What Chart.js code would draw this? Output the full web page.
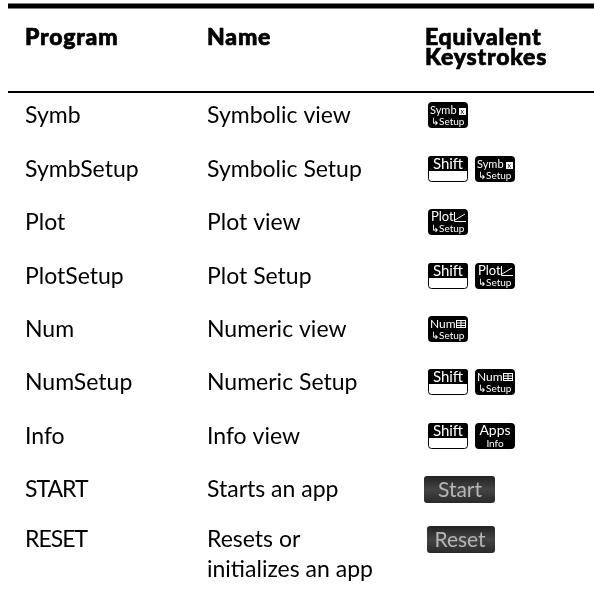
<!DOCTYPE html>
<html>
<head>
<meta charset="utf-8">
<style>
  html, body { margin: 0; padding: 0; background: #fff; }
  canvas { display: block; }
</style>
<script src="https://cdn.jsdelivr.net/npm/chart.js@4"></script>
</head>
<body>
<canvas id="chart" width="594" height="593"></canvas>
<script>
// table contents
const headers = ["Program", "Name", ["Equivalent", "Keystrokes"]];
const programs = ["Symb", "SymbSetup", "Plot", "PlotSetup", "Num", "NumSetup", "Info", "START", "RESET"];
const names = ["Symbolic view", "Symbolic Setup", "Plot view", "Plot Setup", "Numeric view", "Numeric Setup", "Info view", "Starts an app", ["Resets or", "initializes an app"]];
const keystrokes = [["Symb"], ["Shift", "Symb"], ["Plot"], ["Shift", "Plot"], ["Num"], ["Shift", "Num"], ["Shift", "Apps"], ["Start"], ["Reset"]];

// layout, in pixels of the hidden axes
const colX = [25, 207, 428];
const key2X = 475;
const rowBase = [123, 177, 230, 284, 337, 390, 444, 497, 547];
const lineGap = 30;
const FONT = '"Lato", "Open Sans", sans-serif';

function roundBox(ctx, x, y, w, h, r, fill, stroke) {
  ctx.beginPath();
  ctx.roundRect(x, y, w, h, r);
  if (fill) { ctx.fillStyle = fill; ctx.fill(); }
  if (stroke) { ctx.strokeStyle = stroke; ctx.lineWidth = 1; ctx.stroke(); }
}

function capText(ctx, text, x, y, size, color, align) {
  ctx.fillStyle = color || "#fff";
  ctx.font = size + "px " + FONT;
  ctx.textAlign = align || "left";
  ctx.fillText(text, x, y);
  ctx.textAlign = "left";
}

function keyIcon(ctx, name, x, y) {
  ctx.strokeStyle = "#fff";
  ctx.fillStyle = "#fff";
  ctx.lineWidth = 1;
  if (name == "Symb") {
    ctx.fillRect(x, y, 7, 7);
    capText(ctx, "x", x + 1.5, y + 6, 7, "#000");
  } else if (name == "Plot") {
    ctx.beginPath();
    ctx.moveTo(x + 0.5, y);
    ctx.lineTo(x + 0.5, y + 9.5);
    ctx.lineTo(x + 12, y + 9.5);
    ctx.moveTo(x + 1, y + 8);
    ctx.lineTo(x + 11, y + 2);
    ctx.stroke();
  } else if (name == "Num") {
    ctx.strokeRect(x + 0.5, y + 0.5, 9, 7);
    ctx.beginPath();
    ctx.moveTo(x, y + 3); ctx.lineTo(x + 10, y + 3);
    ctx.moveTo(x, y + 5.5); ctx.lineTo(x + 10, y + 5.5);
    ctx.moveTo(x + 5, y); ctx.lineTo(x + 5, y + 8);
    ctx.stroke();
  }
}

// size of the key legend and where its icon sits
const capStyle = {
  Symb: {size: 11, textX: 2, iconX: 31, iconY: 6},
  Plot: {size: 13, textX: 3, iconX: 26, iconY: 3},
  Num: {size: 12, textX: 2, iconX: 28, iconY: 4},
};

function drawKey(ctx, name, x, top) {
  if (name == "Shift") {
    roundBox(ctx, x + 0.5, top + 0.5, 39, 25, 3, "#fff", "#000");
    ctx.beginPath();
    ctx.roundRect(x, top, 40, 15, [3, 3, 0, 0]);
    ctx.fillStyle = "#000";
    ctx.fill();
    capText(ctx, "Shift", x + 20, top + 13, 15, "#fff", "center");
  } else if (name == "Start" || name == "Reset") {
    const w = name == "Start" ? 71 : 68;
    const h = 27;
    const left = name == "Start" ? x - 4 : x - 1;
    const grad = ctx.createLinearGradient(0, top, 0, top + h);
    grad.addColorStop(0, "#222");
    grad.addColorStop(0.5, "#444");
    grad.addColorStop(1, "#2a2a2a");
    roundBox(ctx, left, top, w, h, 3, grad);
    capText(ctx, name, 460, top + 21, 21, "#b5b5b5", "center");
  } else {
    roundBox(ctx, x, top, 40, 26, 4, "#000");
    if (name == "Apps") {
      capText(ctx, "Apps", x + 20, top + 12, 14, "#fff", "center");
      capText(ctx, "Info", x + 20, top + 24, 10, "#fff", "center");
    } else {
      const style = capStyle[name];
      capText(ctx, name, x + style.textX, top + 12, style.size, "#fff");
      keyIcon(ctx, name, x + style.iconX, top + style.iconY);
      capText(ctx, "↳Setup", x + 3, top + 23, 10, "#fff");
    }
  }
}

// draws the cells of the table at their place on the hidden axes
const tablePlugin = {
  id: "tablePlugin",
  afterDatasetsDraw(chart) {
    const ctx = chart.ctx;
    const xs = chart.scales.x;
    const ys = chart.scales.y;
    ctx.save();
    ctx.textBaseline = "alphabetic";

    ctx.fillStyle = "#000";
    ctx.strokeStyle = "#000";
    ctx.lineWidth = 0.7;
    ctx.font = "900 23px " + FONT;
    ctx.letterSpacing = "0.8px";
    const heads = [
      [headers[0], colX[0], 45],
      [headers[1], colX[1], 45],
      [headers[2][0], colX[2] - 3, 45],
      [headers[2][1], colX[2] - 3, 65],
    ];
    heads.forEach(([text, x, y]) => {
      ctx.fillText(text, xs.getPixelForValue(x), ys.getPixelForValue(y));
      ctx.strokeText(text, xs.getPixelForValue(x), ys.getPixelForValue(y));
    });
    ctx.letterSpacing = "0px";

    programs.forEach((program, i) => {
      const y = ys.getPixelForValue(rowBase[i]);
      ctx.fillStyle = "#000";
      ctx.font = "23px " + FONT;
      // the capitals run narrower in the reference
      ctx.letterSpacing = program == program.toUpperCase() ? "-1px" : "0px";
      ctx.fillText(program, xs.getPixelForValue(colX[0]), y);
      ctx.letterSpacing = "0px";
      const lines = [].concat(names[i]);
      lines.forEach((line, j) => {
        ctx.fillText(line, xs.getPixelForValue(colX[1]), ys.getPixelForValue(rowBase[i] + j * lineGap));
      });
      const top = y - 21;
      keystrokes[i].forEach((key, k) => {
        const x = xs.getPixelForValue(k == 0 ? colX[2] : key2X);
        drawKey(ctx, key, x, top);
      });
    });
    ctx.restore();
  }
};

const ruleTop = [{x: 8, y: 6}, {x: 594, y: 6}];
const ruleHead = [{x: 8, y: 92}, {x: 594, y: 92}];

new Chart(document.getElementById("chart"), {
  type: "scatter",
  data: {
    datasets: [
      {data: ruleTop, showLine: true, borderColor: "#000", borderWidth: 5, pointRadius: 0, borderCapStyle: "butt"},
      {data: ruleHead, showLine: true, borderColor: "#000", borderWidth: 2, pointRadius: 0, borderCapStyle: "butt"},
    ],
  },
  options: {
    responsive: false,
    animation: false,
    layout: {padding: 0},
    plugins: {legend: {display: false}, tooltip: {enabled: false}},
    scales: {
      x: {type: "linear", display: false, min: 0, max: 594},
      y: {type: "linear", display: false, min: 0, max: 593, reverse: true},
    },
  },
  plugins: [tablePlugin],
});
</script>
</body>
</html>
